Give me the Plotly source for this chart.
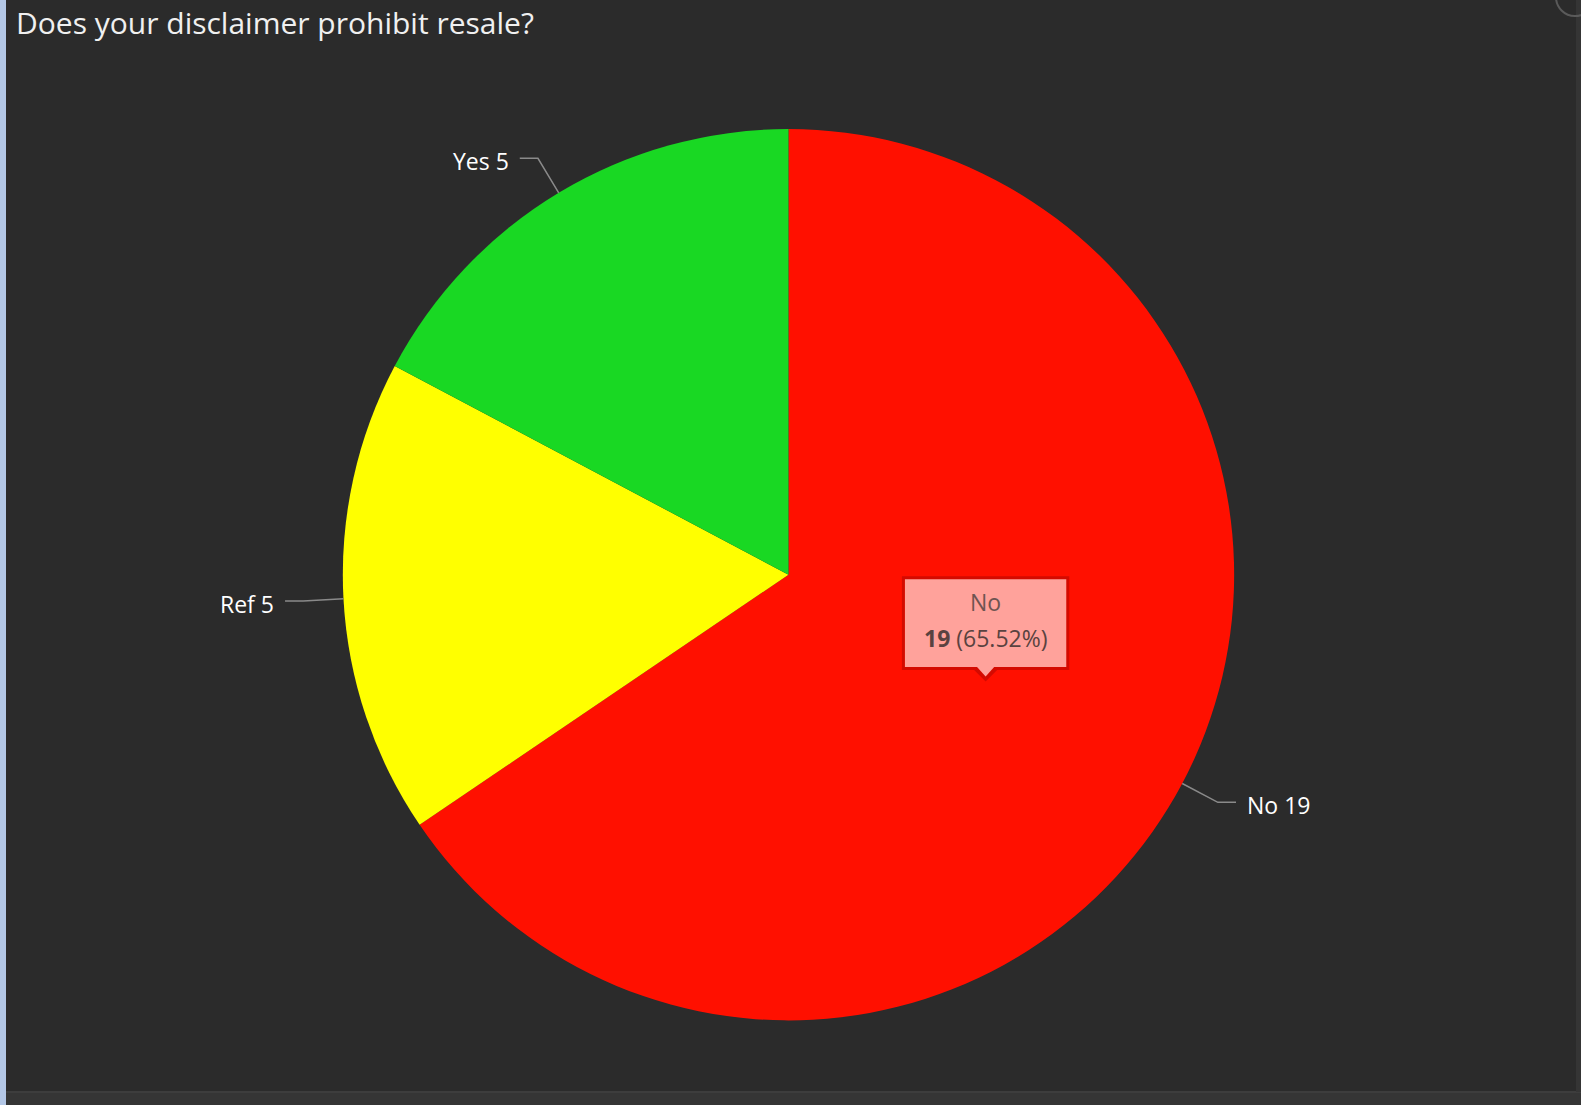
import math
import plotly.graph_objects as go

# ---- data ----
categories = ["No", "Ref", "Yes"]
counts = [19, 5, 5]
colors = ["#ff1000", "#ffff00", "#19d823"]
title_text = "Does your disclaimer prohibit resale?"

W, H = 1581, 1105
S = 1581 / 1568.0            # layout estimates were taken at 1568 px scale
CX, CY, R = 782 * S, 570 * S, 442 * S   # pie center / radius in pixels
FONT = "'Open Sans', 'Noto Sans', sans-serif"


def px(x):
    return x / W


def py(y):
    return 1 - y / H


fig = go.Figure()
fig.add_trace(go.Pie(
    labels=categories,
    values=counts,
    sort=False,
    direction="clockwise",
    rotation=0,
    marker=dict(colors=colors, line=dict(width=0)),
    textinfo="none",
    hoverinfo="skip",
    showlegend=False,
    domain=dict(x=[px(CX - R), px(CX + R)], y=[py(CY + R), py(CY - R)]),
))

shapes = []
annotations = []

# background decorations (panel frame)
shapes.append(dict(type="rect", xref="paper", yref="paper", x0=0, x1=px(6), y0=0, y1=1,
                   fillcolor="#b3c7e6", line=dict(width=0), layer="below"))
shapes.append(dict(type="rect", xref="paper", yref="paper", x0=px(6), x1=1, y0=0, y1=py(1092),
                   fillcolor="#353535", line=dict(width=0), layer="below"))
shapes.append(dict(type="line", xref="paper", yref="paper", x0=px(6), x1=1, y0=py(1092), y1=py(1092),
                   line=dict(color="#3d3d3d", width=2), layer="below"))
shapes.append(dict(type="rect", xref="paper", yref="paper", x0=px(1576), x1=1, y0=py(1092), y1=1,
                   fillcolor="#353535", line=dict(width=0), layer="below"))
shapes.append(dict(type="circle", xref="paper", yref="paper", x0=px(1556), x1=px(1594), y0=py(16), y1=py(-22),
                   fillcolor="rgba(0,0,0,0)", line=dict(color="#5a5a5a", width=2)))

# outside labels with leader lines, derived from slice mid-angles
total = sum(counts)
cum = 0
for cat, val in zip(categories, counts):
    mid = (cum + val / 2) / total * 2 * math.pi
    cum += val
    sx, sy = math.sin(mid), -math.cos(mid)
    p0 = (CX + R * sx, CY + R * sy)
    p1 = (CX + (R + 40 * S) * sx, CY + (R + 40 * S) * sy)
    side = 1 if sx >= 0 else -1
    p2 = (p1[0] + side * 18 * S, p1[1])
    shapes.append(dict(type="path", xref="paper", yref="paper",
                       path=f"M {px(p0[0])},{py(p0[1])} L {px(p1[0])},{py(p1[1])} L {px(p2[0])},{py(p2[1])}",
                       line=dict(color="#8a8a8a", width=1.5)))
    annotations.append(dict(x=px(p2[0] + side * 9), y=py(p2[1] + 3), xref="paper", yref="paper",
                            text=f"{cat} {val}", showarrow=False,
                            xanchor="left" if side > 0 else "right", yanchor="middle",
                            font=dict(family=FONT, size=23, color="#ffffff")))

# tooltip for the "No" slice
tx0, tx1, ty0, ty1 = 896 * S, 1059 * S, 573 * S, 663 * S
shapes.append(dict(type="rect", xref="paper", yref="paper", x0=px(tx0), x1=px(tx1), y0=py(ty1), y1=py(ty0),
                   fillcolor="#ffa29b", line=dict(color="#d40a00", width=3)))
tcx = (tx0 + tx1) / 2
shapes.append(dict(type="path", xref="paper", yref="paper",
                   path=f"M {px(tcx - 12)},{py(ty1 + 1)} L {px(tcx)},{py(ty1 + 13)} L {px(tcx + 12)},{py(ty1 + 1)} Z",
                   fillcolor="#d40a00", line=dict(width=0)))
shapes.append(dict(type="path", xref="paper", yref="paper",
                   path=f"M {px(tcx - 9)},{py(ty1 - 2)} L {px(tcx)},{py(ty1 + 8)} L {px(tcx + 9)},{py(ty1 - 2)} Z",
                   fillcolor="#ffa29b", line=dict(width=0)))
pct = counts[0] / total * 100
annotations.append(dict(x=px(tcx), y=py(597 * S), xref="paper", yref="paper", text=categories[0],
                        showarrow=False, xanchor="center", yanchor="middle",
                        font=dict(family=FONT, size=23, color="#6e5452")))
annotations.append(dict(x=px(tcx), y=py(633 * S), xref="paper", yref="paper",
                        text=f"<b>{counts[0]}</b> ({pct:.2f}%)",
                        showarrow=False, xanchor="center", yanchor="middle",
                        font=dict(family=FONT, size=23, color="#5a4240")))

# title
annotations.append(dict(x=px(14), y=py(22), xref="paper", yref="paper", text=title_text,
                        showarrow=False, xanchor="left", yanchor="middle",
                        font=dict(family=FONT, size=30, color="#f0f0f0")))

fig.update_layout(
    width=W, height=H,
    margin=dict(l=0, r=0, t=0, b=0),
    paper_bgcolor="#2b2b2b",
    plot_bgcolor="#2b2b2b",
    shapes=shapes,
    annotations=annotations,
)

fig.write_html("out.html", config={"displayModeBar": False},
               post_script="document.body.style.margin='0';document.body.style.overflow='hidden';")
